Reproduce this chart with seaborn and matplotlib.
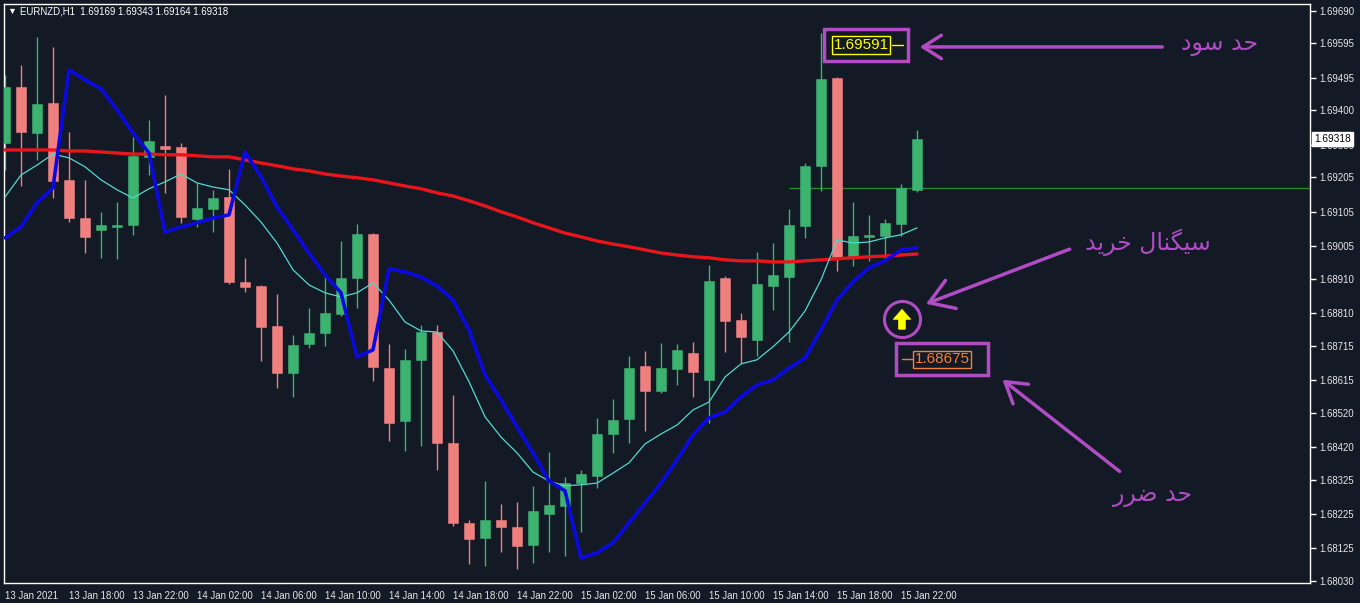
import numpy as np
import pandas as pd
import matplotlib
matplotlib.use("Agg")
import matplotlib.pyplot as plt
import matplotlib.transforms as mtransforms
from matplotlib.patches import Rectangle
import seaborn as sns

# ---------------- data ----------------
SYMBOL = "EURNZD"
TIMEFRAME = "H1"

OPEN = [1.69306, 1.69469, 1.69335, 1.69422, 1.69198, 1.69087, 1.69052, 1.69061, 1.69067, 1.69265,
        1.69297, 1.69294, 1.69084, 1.69113, 1.69148, 1.68901, 1.68889, 1.68773, 1.68636, 1.68720,
        1.68752, 1.68808, 1.68912, 1.69041, 1.68650, 1.68496, 1.68674, 1.68755, 1.68432, 1.68199,
        1.68155, 1.68208, 1.68187, 1.68135, 1.68225, 1.68248, 1.68315, 1.68336, 1.68458, 1.68502,
        1.68656, 1.68583, 1.68647, 1.68694, 1.68615, 1.68912, 1.68790, 1.68732, 1.68889, 1.68915,
        1.69064, 1.69239, 1.69495, 1.68976, 1.69032, 1.69035, 1.69070, 1.69169]
HIGH = [1.69504, 1.69533, 1.69614, 1.69585, 1.69338, 1.69198, 1.69105, 1.69134, 1.69323, 1.69373,
        1.69445, 1.69306, 1.69189, 1.69169, 1.69230, 1.68971, 1.68892, 1.68866, 1.68746, 1.68825,
        1.68915, 1.69020, 1.69070, 1.69043, 1.68720, 1.68706, 1.68776, 1.68776, 1.68572, 1.68208,
        1.68321, 1.68254, 1.68260, 1.68307, 1.68406, 1.68333, 1.68353, 1.68505, 1.68560, 1.68685,
        1.68700, 1.68723, 1.68720, 1.68726, 1.68950, 1.68918, 1.68810, 1.68988, 1.69014, 1.69113,
        1.69247, 1.69626, 1.69498, 1.69134, 1.69096, 1.69084, 1.69186, 1.69343]
LOW = [1.69227, 1.69180, 1.69256, 1.69145, 1.69075, 1.68985, 1.68971, 1.68968, 1.69038, 1.69212,
       1.69160, 1.69073, 1.69061, 1.69046, 1.68895, 1.68872, 1.68671, 1.68592, 1.68566, 1.68709,
       1.68714, 1.68802, 1.68825, 1.68612, 1.68438, 1.68409, 1.68423, 1.68353, 1.68190, 1.68080,
       1.68074, 1.68114, 1.68065, 1.68082, 1.68114, 1.68103, 1.68173, 1.68301, 1.68403, 1.68432,
       1.68467, 1.68578, 1.68601, 1.68566, 1.68490, 1.68697, 1.68665, 1.68685, 1.68819, 1.68726,
       1.69029, 1.69166, 1.68933, 1.68947, 1.68962, 1.68968, 1.69035, 1.69164]
CLOSE = [1.69469, 1.69338, 1.69419, 1.69195, 1.69087, 1.69032, 1.69067, 1.69067, 1.69268, 1.69311,
         1.69288, 1.69090, 1.69116, 1.69145, 1.68901, 1.68886, 1.68770, 1.68636, 1.68717, 1.68752,
         1.68810, 1.68912, 1.69041, 1.68653, 1.68490, 1.68674, 1.68755, 1.68432, 1.68199, 1.68152,
         1.68208, 1.68187, 1.68132, 1.68234, 1.68251, 1.68315, 1.68342, 1.68458, 1.68499, 1.68650,
         1.68583, 1.68650, 1.68703, 1.68639, 1.68904, 1.68787, 1.68741, 1.68895, 1.68921, 1.69067,
         1.69239, 1.69492, 1.68974, 1.69035, 1.69038, 1.69073, 1.69175, 1.69318]

MA_SLOW = [1.69285, 1.69285, 1.69285, 1.69285, 1.69282, 1.69282, 1.69279, 1.69276, 1.69273, 1.69273,
           1.69271, 1.69271, 1.69268, 1.69265, 1.69265, 1.69256, 1.69247, 1.69239, 1.69230, 1.69224,
           1.69215, 1.69209, 1.69204, 1.69198, 1.69189, 1.69180, 1.69172, 1.69160, 1.69151, 1.69137,
           1.69122, 1.69105, 1.69090, 1.69073, 1.69058, 1.69043, 1.69032, 1.69020, 1.69011, 1.69003,
           1.68994, 1.68985, 1.68979, 1.68974, 1.68971, 1.68965, 1.68962, 1.68962, 1.68959, 1.68959,
           1.68962, 1.68965, 1.68968, 1.68971, 1.68974, 1.68976, 1.68979, 1.68982]
MA_FAST = [1.69148, 1.69212, 1.69241, 1.69273, 1.69262, 1.69236, 1.69198, 1.69169, 1.69145, 1.69172,
           1.69192, 1.69215, 1.69189, 1.69177, 1.69169, 1.69125, 1.69075, 1.69014, 1.68936, 1.68892,
           1.68869, 1.68857, 1.68869, 1.68898, 1.68848, 1.68784, 1.68758, 1.68755, 1.68700, 1.68610,
           1.68508, 1.68449, 1.68403, 1.68347, 1.68321, 1.68307, 1.68310, 1.68315, 1.68344, 1.68374,
           1.68429, 1.68458, 1.68484, 1.68528, 1.68551, 1.68624, 1.68662, 1.68674, 1.68712, 1.68755,
           1.68816, 1.68907, 1.69023, 1.69014, 1.69017, 1.69029, 1.69038, 1.69058]
BLUE_LINE = [1.69029, 1.69061, 1.69131, 1.69175, 1.69518, 1.69489, 1.69463, 1.69402, 1.69335, 1.69276,
             1.69046, 1.69061, 1.69073, 1.69087, 1.69096, 1.69279, 1.69207, 1.69119, 1.69052, 1.68985,
             1.68921, 1.68869, 1.68682, 1.68703, 1.68939, 1.68930, 1.68915, 1.68889, 1.68848, 1.68761,
             1.68630, 1.68557, 1.68478, 1.68403, 1.68321, 1.68292, 1.68097, 1.68112, 1.68141, 1.68199,
             1.68257, 1.68315, 1.68382, 1.68455, 1.68505, 1.68522, 1.68566, 1.68601, 1.68615, 1.68650,
             1.68679, 1.68761, 1.68848, 1.68901, 1.68942, 1.68962, 1.68994, 1.69000]

X_TICK_LABELS = ["13 Jan 2021", "13 Jan 18:00", "13 Jan 22:00", "14 Jan 02:00", "14 Jan 06:00",
                 "14 Jan 10:00", "14 Jan 14:00", "14 Jan 18:00", "14 Jan 22:00", "15 Jan 02:00",
                 "15 Jan 06:00", "15 Jan 10:00", "15 Jan 14:00", "15 Jan 18:00", "15 Jan 22:00"]
BARS_PER_LABEL = 4
Y_TICKS = [1.69690, 1.69595, 1.69495, 1.69400, 1.69300, 1.69205, 1.69105, 1.69005, 1.68910,
           1.68810, 1.68715, 1.68615, 1.68520, 1.68420, 1.68325, 1.68225, 1.68125, 1.68030]

TAKE_PROFIT = 1.69591
STOP_LOSS = 1.68675
HLINE_PRICE = 1.69175
HLINE_START_BAR = 49
SIGNAL_BAR = 56
SIGNAL_PRICE = 1.68793

TP_TEXT = "حد سود"
SIGNAL_TEXT = "سیگنال خرید"
SL_TEXT = "حد ضرر"

# ---------------- styling ----------------
BG = "#131a25"
GREEN = "#3cb371"
PINK = "#f08080"
RED = "#e8161a"
CYAN = "#52d8d0"
BLUE = "#0a0ae0"
PURPLE = "#b04cc4"
YELLOW = "#ffff00"
ORANGE = "#f2803c"
HLINE_COLOR = "#1f8f1f"

sns.set_theme(style="dark", rc={
    "axes.facecolor": BG, "figure.facecolor": BG, "axes.edgecolor": "white",
    "text.color": "white", "xtick.color": "white", "ytick.color": "white",
    "axes.grid": False,
})
plt.rcParams["font.family"] = ["Liberation Sans", "DejaVu Sans"]

# --- Persian shaping (presentation forms, RTL) ---
FORMS = {
    "\u062D": ("\uFEA1", "\uFEA2", "\uFEA3", "\uFEA4"),
    "\u062E": ("\uFEA5", "\uFEA6", "\uFEA7", "\uFEA8"),
    "\u062F": ("\uFEA9", "\uFEAA", None, None),
    "\u0631": ("\uFEAD", "\uFEAE", None, None),
    "\u0633": ("\uFEB1", "\uFEB2", "\uFEB3", "\uFEB4"),
    "\u0636": ("\uFEBD", "\uFEBE", "\uFEBF", "\uFEC0"),
    "\u0644": ("\uFEDD", "\uFEDE", "\uFEDF", "\uFEE0"),
    "\u0646": ("\uFEE5", "\uFEE6", "\uFEE7", "\uFEE8"),
    "\u0648": ("\uFEED", "\uFEEE", None, None),
    "\u0627": ("\uFE8D", "\uFE8E", None, None),
    "\u06CC": ("\uFBFC", "\uFBFD", "\uFBFE", "\uFBFF"),
    "\u06AF": ("\uFB92", "\uFB93", "\uFB94", "\uFB95"),
}


def shape_rtl(text):
    out = []
    n = len(text)
    for i, ch in enumerate(text):
        f = FORMS.get(ch)
        if f is None:
            out.append(ch)
            continue
        prev = text[i - 1] if i > 0 else ""
        nxt = text[i + 1] if i + 1 < n else ""
        jp = prev in FORMS and FORMS[prev][2] is not None
        jn = f[2] is not None and nxt in FORMS
        if jp and jn:
            out.append(f[3])
        elif jp:
            out.append(f[1])
        elif jn:
            out.append(f[2])
        else:
            out.append(f[0])
    return "".join(reversed(out))


W, H = 1360, 603
fig = plt.figure(figsize=(W / 100, H / 100), dpi=100)
ax = fig.add_axes([4 / W, (H - 583) / H, (1310 - 4) / W, (583 - 4) / H])
ax.set_facecolor(BG)

bars = np.arange(len(OPEN))
o, h, l, c = map(np.array, (OPEN, HIGH, LOW, CLOSE))
cols = np.where(c >= o, GREEN, PINK)

ax.vlines(bars, l, h, colors=cols, lw=1, zorder=2)
body_bottom = np.minimum(o, c)
body_h = np.maximum(np.abs(c - o), 0.00002)
ax.bar(bars, body_h, bottom=body_bottom, width=0.65, color=cols, edgecolor=cols, lw=0.4, zorder=3)

df = pd.DataFrame({"bar": bars, "slow": MA_SLOW, "fast": MA_FAST, "blue": BLUE_LINE})
sns.lineplot(data=df, x="bar", y="slow", color=RED, lw=2.4, ax=ax, zorder=4)
sns.lineplot(data=df, x="bar", y="fast", color=CYAN, lw=0.9, ax=ax, zorder=4)
sns.lineplot(data=df, x="bar", y="blue", color=BLUE, lw=2.6, ax=ax, zorder=5)

XMAX = 81.56
ax.hlines(HLINE_PRICE, HLINE_START_BAR, XMAX, color=HLINE_COLOR, lw=1, zorder=1)

ax.set_xlim(-0.0625, XMAX)
ax.set_ylim(1.68024, 1.69710)
ax.set_xlabel("")
ax.set_ylabel("")

# axes
for s in ax.spines.values():
    s.set_color("white")
    s.set_linewidth(1)
ax.yaxis.tick_right()
ax.set_yticks(Y_TICKS)
ax.set_yticklabels([f"{v:.5f}" for v in Y_TICKS])
ax.set_xticks(np.arange(len(X_TICK_LABELS)) * BARS_PER_LABEL)
ax.set_xticklabels(X_TICK_LABELS)
for lbl in ax.get_xticklabels():
    lbl.set_horizontalalignment("left")
ax.tick_params(axis="both", direction="out", length=4, width=1, color="white",
               labelsize=6.9, labelcolor="#e8e8e8")
ax.tick_params(axis="x", pad=2)
ax.tick_params(axis="y", pad=3, right=True, left=False)

# last price tag
blend = mtransforms.blended_transform_factory(ax.transAxes, ax.transData)
ax.text(1.003, CLOSE[-1], f"{CLOSE[-1]:.5f}", transform=blend, ha="left", va="center",
        fontsize=7.3, color="black", clip_on=False,
        bbox=dict(boxstyle="square,pad=0.2", fc="white", ec="white"), zorder=10)

# header
fig.text(7 / W, 1 - 11 / H, "\u25BC", fontsize=6.5, color="white", va="center", ha="left")
fig.text(20 / W, 1 - 11 / H,
         f"{SYMBOL},{TIMEFRAME}  {OPEN[-1]:.5f} {HIGH[-1]:.5f} {LOW[-1]:.5f} {CLOSE[-1]:.5f}",
         fontsize=6.9, color="white", va="center", ha="left")

# ---------------- annotations ----------------
# take profit label
ax.text(53.5, TAKE_PROFIT, f"{TAKE_PROFIT:.5f}", ha="center", va="center", fontsize=11,
        color=YELLOW, zorder=8,
        bbox=dict(boxstyle="square,pad=0.12", fc="none", ec=YELLOW, lw=1))
ax.plot([55.45, 56.1], [TAKE_PROFIT, TAKE_PROFIT], color=YELLOW, lw=1, zorder=8)
ax.add_patch(Rectangle((51.19, 1.69544), 5.25, 0.00094, fc="none", ec=PURPLE, lw=2.5, zorder=8))
ax.annotate("", xy=(57.0, 1.69585), xytext=(72.5, 1.69585),
            arrowprops=dict(arrowstyle="->,head_length=1.1,head_width=0.7", color=PURPLE, lw=2.5))
ax.text(75.9, 1.69594, shape_rtl(TP_TEXT), ha="center", va="center", fontsize=17,
        color=PURPLE, family=["DejaVu Sans"])

# buy signal
ax.plot(SIGNAL_BAR + 0.06, SIGNAL_PRICE, marker="o", ms=26, mfc="none", mec=PURPLE, mew=2.2, zorder=8)
ax.annotate("", xy=(SIGNAL_BAR + 0.06, SIGNAL_PRICE + 0.00028),
            xytext=(SIGNAL_BAR + 0.06, SIGNAL_PRICE - 0.00030),
            arrowprops=dict(arrowstyle="simple,head_length=0.6,head_width=1.05,tail_width=0.4",
                            fc=YELLOW, ec=YELLOW, lw=0.5, shrinkA=0, shrinkB=0),
            zorder=9)
ax.annotate("", xy=(57.4, 1.68834), xytext=(66.7, 1.68999),
            arrowprops=dict(arrowstyle="->,head_length=1.4,head_width=0.9", color=PURPLE, lw=2.5))
ax.text(71.4, 1.69017, shape_rtl(SIGNAL_TEXT), ha="center", va="center", fontsize=17,
        color=PURPLE, family=["DejaVu Sans"])

# stop loss label
ax.add_patch(Rectangle((55.69, 1.68630), 5.75, 0.00093, fc="none", ec=PURPLE, lw=2.5, zorder=8))
ax.plot([56.05, 56.7], [STOP_LOSS, STOP_LOSS], color=ORANGE, lw=1, zorder=8)
ax.text(58.56, STOP_LOSS, f"{STOP_LOSS:.5f}", ha="center", va="center", fontsize=11,
        color=ORANGE, zorder=8,
        bbox=dict(boxstyle="square,pad=0.12", fc="none", ec=ORANGE, lw=1))
ax.annotate("", xy=(62.2, 1.68621), xytext=(69.8, 1.68344),
            arrowprops=dict(arrowstyle="->,head_length=1.2,head_width=0.75", color=PURPLE, lw=2.5))
ax.text(71.7, 1.68280, shape_rtl(SL_TEXT), ha="center", va="center", fontsize=17,
        color=PURPLE, family=["DejaVu Sans"])

fig.savefig("out.png", dpi=100, facecolor=BG)
